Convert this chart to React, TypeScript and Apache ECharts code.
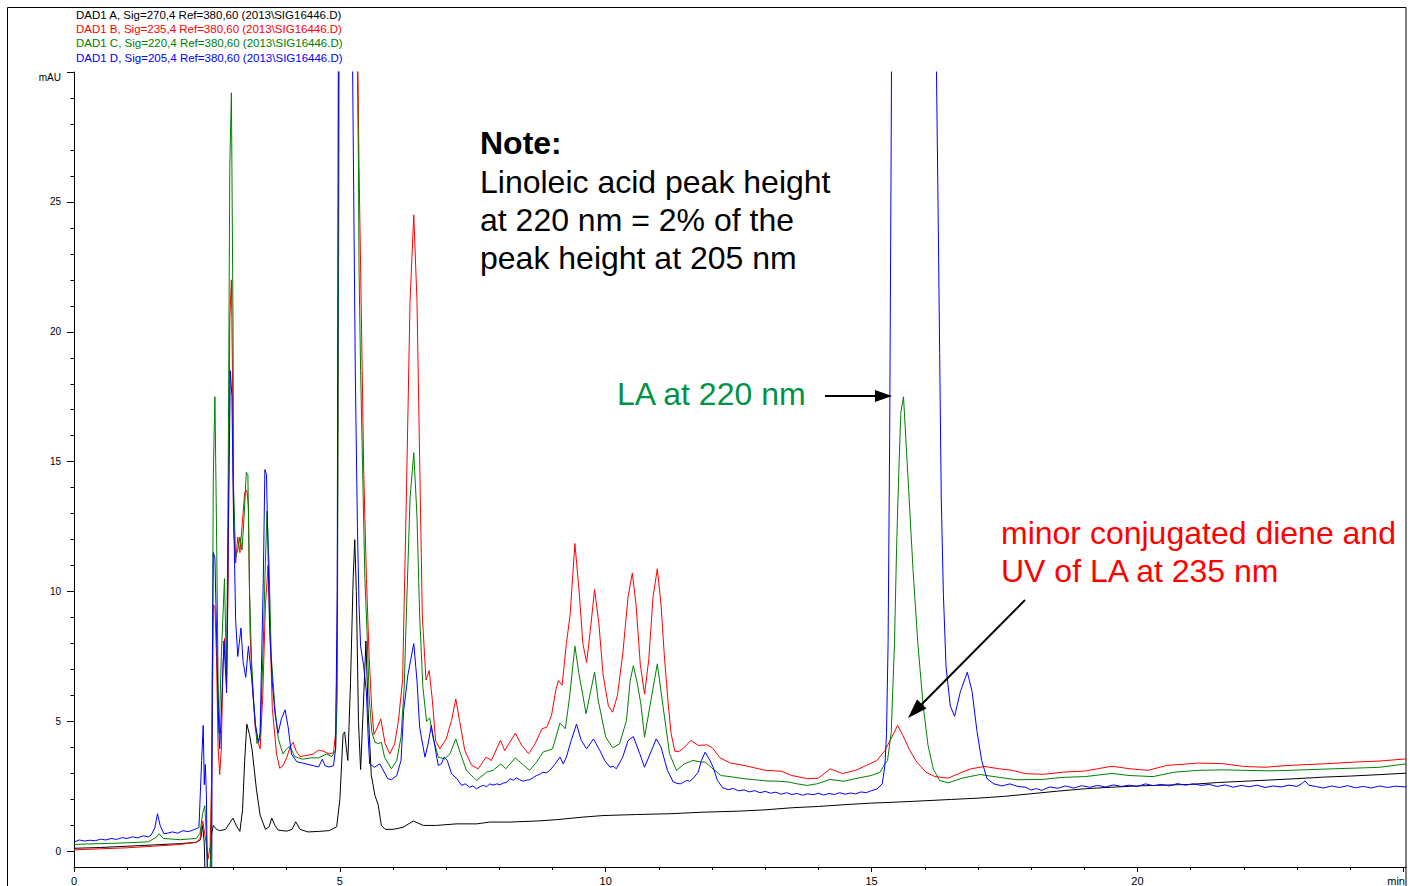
import React, { useEffect, useRef } from "react";
import * as echarts from "echarts";

// ---------- data (time in min, absorbance in mAU) ----------
const sig270: [number, number][] = [
  [0, 0.12], [0.5, 0.15], [1.0, 0.2], [1.5, 0.25], [2.0, 0.3], [2.3, 0.35], [2.38, 0.45], [2.42, 1.0], [2.45, 0.3],
  [2.47, -1.5], [2.55, -1.5], [2.58, 0.6], [2.62, 1.0], [2.68, 0.85], [2.74, 0.8], [2.85, 0.85], [2.93, 1.1],
  [2.99, 1.28], [3.05, 1.0], [3.12, 0.77], [3.17, 1.6], [3.21, 3.5], [3.25, 4.9], [3.3, 4.5], [3.35, 3.9],
  [3.43, 2.4], [3.5, 1.4], [3.6, 0.85], [3.67, 0.95], [3.72, 1.28], [3.78, 1.0], [3.84, 0.82], [4.0, 0.78],
  [4.1, 0.85], [4.17, 1.14], [4.25, 0.85], [4.4, 0.75], [4.6, 0.77], [4.8, 0.8], [4.94, 0.95], [5.0, 2.0],
  [5.06, 4.5], [5.09, 4.6], [5.12, 4.0], [5.15, 3.5], [5.2, 6.5], [5.25, 10.5], [5.28, 12.0], [5.31, 10.0],
  [5.35, 5.0], [5.39, 3.15], [5.44, 5.5], [5.49, 8.1], [5.53, 5.5], [5.59, 2.95], [5.66, 2.15], [5.72, 1.8],
  [5.78, 1.0], [5.85, 0.85], [6.0, 0.85], [6.19, 0.93], [6.38, 1.17], [6.57, 1.0], [6.82, 1.0], [7.19, 1.06],
  [7.57, 1.06], [7.82, 1.13], [8.2, 1.13], [8.7, 1.17], [9.07, 1.22], [9.57, 1.32], [9.95, 1.38], [10.58, 1.42],
  [11.2, 1.45], [11.83, 1.51], [12.5, 1.55], [13.0, 1.6], [13.5, 1.68], [14.0, 1.73], [14.5, 1.8], [15.0, 1.86],
  [15.5, 1.9], [16.0, 1.95], [16.5, 2.0], [17.0, 2.05], [17.5, 2.12], [18.0, 2.22], [18.5, 2.32], [19.0, 2.41],
  [19.5, 2.47], [20.0, 2.52], [20.5, 2.55], [21.0, 2.58], [21.5, 2.65], [22.0, 2.7], [22.5, 2.75], [23.0, 2.8],
  [23.5, 2.86], [24.0, 2.9], [24.5, 2.95], [25.05, 3.01],
];

const sig235: [number, number][] = [
  [0, 0.06], [0.5, 0.1], [1.0, 0.14], [1.5, 0.2], [2.0, 0.27], [2.3, 0.35], [2.37, 0.5], [2.42, 1.17], [2.45, 0.8],
  [2.48, 0.4], [2.52, -0.3], [2.56, 0.2], [2.59, 3.0], [2.6, 4.55], [2.62, 9.5], [2.65, 9.4], [2.68, 7.5],
  [2.71, 4.0], [2.74, 2.96], [2.77, 3.9], [2.8, 7.0], [2.83, 8.2], [2.87, 6.5], [2.9, 10.5], [2.93, 20.5],
  [2.96, 22.0], [2.98, 18.5], [3.0, 12.5], [3.04, 11.1], [3.08, 12.1], [3.12, 11.5], [3.16, 12.5], [3.21, 13.8],
  [3.25, 13.9], [3.28, 13.3], [3.31, 8.5], [3.35, 6.5], [3.41, 4.75], [3.47, 4.15], [3.5, 3.95], [3.55, 6.0],
  [3.6, 9.5], [3.65, 11.0], [3.68, 8.9], [3.73, 5.5], [3.81, 3.75], [3.87, 3.2], [3.93, 3.3], [4.0, 3.6],
  [4.06, 4.0], [4.12, 4.2], [4.18, 3.85], [4.25, 3.65], [4.4, 3.7], [4.5, 3.75], [4.6, 3.9], [4.7, 3.85],
  [4.8, 3.75], [4.88, 3.8], [4.92, 4.55], [4.95, 8], [4.98, 30], [5.0, 60], [5.1, 100], [5.3, 60], [5.34, 30],
  [5.36, 26.4], [5.39, 22.5], [5.42, 18.5], [5.45, 14.5], [5.5, 10.5], [5.55, 7.5], [5.6, 5.5], [5.64, 4.5],
  [5.7, 4.75], [5.77, 5.1], [5.85, 4.15], [5.94, 3.76], [6.03, 4.14], [6.1, 5.0], [6.18, 6.6], [6.25, 13.6],
  [6.32, 21.2], [6.39, 24.5], [6.45, 21.2], [6.5, 15.2], [6.55, 9.1], [6.62, 6.6], [6.68, 6.96], [6.74, 5.81],
  [6.8, 4.27], [6.88, 3.95], [7.0, 4.33], [7.1, 5.04], [7.18, 5.87], [7.25, 5.04], [7.35, 3.88], [7.48, 3.31],
  [7.6, 3.18], [7.75, 3.63], [7.85, 3.5], [8.02, 4.27], [8.1, 3.88], [8.3, 4.55], [8.42, 4.08], [8.55, 3.76],
  [8.67, 4.14], [8.8, 4.72], [8.89, 4.78], [8.98, 5.23], [9.06, 6.2], [9.11, 6.58], [9.18, 6.4], [9.26, 8.0],
  [9.33, 9.1], [9.42, 11.85], [9.5, 10.0], [9.57, 8.0], [9.64, 7.27], [9.71, 8.5], [9.79, 10.08], [9.87, 8.8],
  [9.95, 6.8], [10.05, 5.6], [10.13, 5.36], [10.22, 6.0], [10.32, 7.6], [10.42, 9.8], [10.5, 10.71], [10.57, 9.5],
  [10.65, 7.2], [10.73, 6.05], [10.81, 7.4], [10.89, 9.8], [10.97, 10.88], [11.04, 9.5], [11.1, 7.6], [11.17, 5.8],
  [11.23, 4.53], [11.3, 3.85], [11.38, 3.85], [11.45, 3.95], [11.6, 4.27], [11.74, 4.08], [11.9, 4.1], [12.0, 4.0],
  [12.15, 3.6], [12.35, 3.4], [12.6, 3.31], [13.0, 3.12], [13.3, 3.09], [13.5, 2.92], [13.8, 2.8], [14.0, 2.82],
  [14.22, 3.18], [14.45, 3.0], [14.7, 3.12], [14.9, 3.31], [15.1, 3.5], [15.25, 3.88], [15.38, 4.4], [15.49, 4.85],
  [15.59, 4.46], [15.72, 3.88], [15.85, 3.44], [16.02, 3.05], [16.19, 2.88], [16.44, 2.82], [16.7, 3.05],
  [16.87, 3.18], [17.13, 3.27], [17.4, 3.18], [17.65, 3.12], [17.9, 2.99], [18.25, 2.97], [18.6, 3.05],
  [19.0, 3.09], [19.25, 3.18], [19.52, 3.28], [19.86, 3.18], [20.2, 3.12], [20.55, 3.31], [21.15, 3.4],
  [21.6, 3.38], [22.0, 3.27], [22.4, 3.24], [22.85, 3.31], [23.5, 3.37], [24.1, 3.44], [24.56, 3.48], [25.05, 3.56],
];

const sig220: [number, number][] = [
  [0, 0.27], [0.5, 0.3], [1.0, 0.33], [1.4, 0.37], [1.55, 0.55], [1.6, 0.68], [1.68, 0.5], [2.0, 0.45], [2.3, 0.5],
  [2.37, 0.7], [2.42, 1.47], [2.46, 1.76], [2.49, 0.6], [2.52, -1.2], [2.56, -1.2], [2.58, 0.5], [2.6, 6.5],
  [2.62, 14.5], [2.65, 17.5], [2.68, 12.5], [2.71, 6.5], [2.73, 4.55], [2.77, 7.5], [2.83, 10.5], [2.87, 6.74],
  [2.9, 14.5], [2.93, 26.4], [2.96, 29.2], [2.99, 20.5], [3.0, 14.1], [3.04, 11.3], [3.09, 11.7], [3.12, 12.1],
  [3.16, 11.6], [3.2, 12.9], [3.24, 14.6], [3.27, 14.5], [3.3, 10.1], [3.34, 7.3], [3.38, 5.75], [3.44, 4.15],
  [3.5, 4.35], [3.56, 8.0], [3.59, 10.5], [3.63, 13.1], [3.67, 10.9], [3.71, 7.5], [3.78, 5.5], [3.84, 4.35],
  [3.93, 3.75], [4.0, 3.95], [4.06, 4.05], [4.15, 3.65], [4.3, 3.55], [4.45, 3.6], [4.6, 3.6], [4.75, 3.75],
  [4.85, 3.65], [4.92, 3.9], [4.95, 6], [4.98, 25], [5.0, 60], [5.1, 100], [5.3, 60], [5.33, 30], [5.35, 26.4],
  [5.36, 22.5], [5.39, 18.5], [5.43, 14.5], [5.47, 10.5], [5.51, 8.5], [5.55, 6.0], [5.6, 4.6], [5.66, 4.2],
  [5.72, 4.15], [5.78, 4.2], [5.84, 3.63], [5.97, 3.18], [6.07, 3.5], [6.15, 4.4], [6.21, 6.32], [6.25, 9.1],
  [6.32, 13.6], [6.39, 15.35], [6.45, 12.9], [6.5, 9.1], [6.56, 6.35], [6.63, 5.0], [6.69, 5.14], [6.75, 4.4],
  [6.85, 3.63], [6.97, 3.56], [7.07, 3.76], [7.18, 4.33], [7.26, 3.82], [7.38, 3.12], [7.57, 2.73], [7.76, 3.05],
  [7.88, 3.12], [8.03, 3.37], [8.12, 3.18], [8.3, 3.6], [8.46, 3.31], [8.57, 3.12], [8.7, 3.44], [8.82, 3.82],
  [9.0, 3.95], [9.14, 4.94], [9.24, 4.72], [9.32, 5.94], [9.42, 7.9], [9.5, 6.8], [9.63, 5.3], [9.72, 6.2],
  [9.79, 6.9], [9.86, 5.8], [10.0, 4.4], [10.13, 3.99], [10.26, 4.14], [10.39, 5.04], [10.46, 6.58], [10.52, 7.15],
  [10.6, 6.4], [10.66, 5.68], [10.73, 4.4], [10.85, 5.81], [10.97, 7.22], [11.08, 5.55], [11.2, 3.76], [11.33, 3.12],
  [11.48, 3.37], [11.64, 3.5], [11.8, 3.44], [11.87, 3.44], [11.98, 3.24], [12.17, 2.92], [12.4, 2.86], [12.6, 2.8],
  [12.8, 2.76], [13.03, 2.71], [13.25, 2.7], [13.45, 2.67], [13.6, 2.6], [13.79, 2.54], [13.97, 2.6], [14.22, 2.77],
  [14.48, 2.7], [14.69, 2.8], [14.99, 2.92], [15.16, 3.05],
  [15.25, 3.37], [15.3, 3.5], [15.37, 4.6], [15.43, 8.0], [15.47, 11.7], [15.51, 14.55], [15.55, 16.9], [15.6, 17.5],
  [15.68, 14.55], [15.78, 10.8], [15.87, 8.0], [15.97, 5.6], [16.06, 4.1], [16.16, 3.17], [16.28, 2.73],
  [16.44, 2.64], [16.7, 2.82], [17.04, 2.96], [17.4, 2.85], [17.73, 2.76], [18.2, 2.77], [18.6, 2.85], [19.01, 2.88],
  [19.52, 3.0], [19.86, 2.92], [20.29, 2.88], [20.7, 3.05], [21.15, 3.12], [21.6, 3.14], [22.0, 3.12], [22.5, 3.1],
  [22.85, 3.12], [23.7, 3.18], [24.3, 3.22], [24.56, 3.24], [25.05, 3.37],
];

const sig205: [number, number][] = [
  [0, 0.36], [0.1, 0.44], [0.2, 0.4], [0.3, 0.43], [0.4, 0.41], [0.5, 0.47], [0.6, 0.44], [0.7, 0.5], [0.8, 0.46],
  [0.9, 0.53], [1.0, 0.5], [1.1, 0.56], [1.2, 0.52], [1.3, 0.6], [1.4, 0.56], [1.45, 0.63], [1.52, 0.9],
  [1.57, 1.45], [1.62, 1.0], [1.69, 0.68], [1.75, 0.7], [1.85, 0.75], [1.95, 0.7], [2.05, 0.8], [2.15, 0.76],
  [2.25, 0.83], [2.35, 0.92], [2.4, 3.5], [2.43, 4.85], [2.45, 2.57], [2.47, 3.35], [2.49, 2.2], [2.51, -1.5],
  [2.59, -1.5], [2.6, 6.5], [2.62, 11.5], [2.65, 11.3], [2.68, 8.5], [2.71, 5.5], [2.74, 3.95], [2.77, 5.3],
  [2.82, 8.1], [2.87, 6.1], [2.9, 12.0], [2.94, 18.5], [2.97, 17.5], [2.99, 14.3], [3.04, 8.9], [3.08, 7.5],
  [3.14, 8.6], [3.18, 7.3], [3.23, 6.7], [3.28, 7.9], [3.35, 6.5], [3.41, 4.9], [3.47, 4.2], [3.5, 4.55],
  [3.56, 10.5], [3.59, 14.7], [3.62, 14.5], [3.65, 11.5], [3.68, 8.5], [3.73, 6.5], [3.78, 5.3], [3.84, 4.55],
  [3.9, 5.1], [3.97, 5.45], [4.03, 4.75], [4.09, 3.75], [4.19, 3.45], [4.3, 3.4], [4.4, 3.35], [4.5, 3.3],
  [4.6, 3.25], [4.67, 3.55], [4.72, 3.3], [4.8, 3.25], [4.88, 3.3], [4.92, 3.95], [4.95, 10], [4.97, 30], [5.0, 70],
  [5.1, 100], [5.22, 40], [5.24, 30], [5.26, 25.4], [5.29, 18.5], [5.33, 12.5], [5.36, 9.5], [5.39, 7.9],
  [5.45, 7.1], [5.5, 6.1], [5.53, 4.5], [5.56, 3.37], [5.65, 3.24], [5.75, 3.37], [5.8, 3.18], [5.9, 2.8],
  [5.97, 2.76], [6.07, 2.92], [6.15, 3.5], [6.2, 5.42], [6.28, 6.8], [6.39, 8.0], [6.45, 6.58], [6.5, 4.78],
  [6.6, 3.63], [6.66, 4.14], [6.72, 4.85], [6.79, 4.0], [6.85, 3.31], [6.91, 3.37], [6.96, 3.63], [7.02, 3.5],
  [7.1, 2.99], [7.2, 2.8], [7.29, 2.54], [7.36, 2.6], [7.44, 2.47], [7.5, 2.52], [7.57, 2.41], [7.64, 2.5],
  [7.7, 2.54], [7.76, 2.49], [7.82, 2.6], [7.88, 2.55], [7.95, 2.6], [8.01, 2.56], [8.07, 2.63], [8.14, 2.66],
  [8.2, 2.8], [8.26, 2.74], [8.32, 2.83], [8.38, 2.76], [8.45, 2.7], [8.51, 2.74], [8.57, 2.76], [8.64, 2.85],
  [8.7, 2.92], [8.76, 2.97], [8.82, 3.05], [8.88, 3.02], [8.95, 3.12], [9.05, 3.37], [9.14, 3.63], [9.2, 3.37],
  [9.26, 3.63], [9.35, 4.27], [9.45, 4.9], [9.54, 4.27], [9.64, 3.95], [9.77, 4.33], [9.89, 3.88], [9.98, 3.5],
  [10.08, 3.24], [10.14, 3.28], [10.2, 3.18], [10.32, 3.63], [10.42, 4.27], [10.52, 4.42], [10.64, 3.76],
  [10.73, 3.24], [10.86, 3.88], [10.95, 4.33], [11.04, 4.01], [11.16, 3.12], [11.27, 2.67], [11.34, 2.62],
  [11.4, 2.6], [11.46, 2.66], [11.52, 2.73], [11.58, 2.7], [11.64, 2.8], [11.74, 3.05], [11.8, 3.5], [11.87, 3.82],
  [11.96, 3.5], [12.02, 3.24], [12.1, 2.73], [12.2, 2.45], [12.3, 2.38], [12.4, 2.42], [12.5, 2.33], [12.6, 2.37],
  [12.7, 2.29], [12.8, 2.34], [12.9, 2.26], [13.0, 2.31], [13.1, 2.24], [13.2, 2.28], [13.3, 2.2], [13.4, 2.26],
  [13.5, 2.19], [13.6, 2.23], [13.7, 2.16], [13.8, 2.22], [13.9, 2.18], [14.0, 2.24], [14.1, 2.17], [14.2, 2.23],
  [14.3, 2.19], [14.4, 2.26], [14.5, 2.2], [14.6, 2.25], [14.7, 2.21], [14.8, 2.29], [14.9, 2.26], [15.0, 2.34],
  [15.1, 2.4], [15.2, 2.6], [15.25, 3.3], [15.28, 4.5], [15.31, 8], [15.34, 16], [15.37, 28], [15.4, 45],
  [15.8, 100], [16.18, 45], [16.22, 30], [16.25, 24.8], [16.28, 19.2], [16.31, 13.6], [16.35, 9.9], [16.4, 7.1],
  [16.48, 5.6], [16.56, 5.2], [16.67, 6.15], [16.8, 6.9], [16.89, 6.15], [16.98, 4.65], [17.07, 3.5], [17.17, 2.8],
  [17.3, 2.6], [17.45, 2.52], [17.6, 2.6], [17.75, 2.5], [17.9, 2.47], [18.0, 2.36], [18.1, 2.42], [18.2, 2.35],
  [18.35, 2.48], [18.5, 2.43], [18.65, 2.52], [18.8, 2.44], [18.95, 2.53], [19.1, 2.47], [19.25, 2.54],
  [19.4, 2.48], [19.55, 2.56], [19.7, 2.5], [19.85, 2.55], [20.0, 2.5], [20.15, 2.6], [20.3, 2.53], [20.45, 2.58],
  [20.6, 2.52], [20.75, 2.61], [20.9, 2.55], [21.05, 2.6], [21.2, 2.54], [21.35, 2.58], [21.5, 2.5], [21.65, 2.56],
  [21.8, 2.47], [21.95, 2.54], [22.1, 2.49], [22.25, 2.55], [22.4, 2.46], [22.55, 2.52], [22.7, 2.48], [22.85, 2.55],
  [23.0, 2.5], [23.1, 2.62], [23.15, 2.72], [23.22, 2.55], [23.35, 2.5], [23.5, 2.44], [23.65, 2.52], [23.8, 2.46],
  [23.95, 2.53], [24.1, 2.45], [24.25, 2.5], [24.4, 2.44], [24.55, 2.52], [24.7, 2.46], [24.85, 2.51], [25.05, 2.48],
];

const signalNames = [
  "DAD1 A, Sig=270,4 Ref=380,60 (2013\\SIG16446.D)",
  "DAD1 B, Sig=235,4 Ref=380,60 (2013\\SIG16446.D)",
  "DAD1 C, Sig=220,4 Ref=380,60 (2013\\SIG16446.D)",
  "DAD1 D, Sig=205,4 Ref=380,60 (2013\\SIG16446.D)",
];
const signalColors = ["#000000", "#ff0000", "#008000", "#0000ff"];

const xLabelValues = [0, 5, 10, 15, 20];
const xMajorTicks = [0, 5, 10, 15, 20, 25];
const xMinorTicks = [1, 2, 3, 4, 6, 7, 8, 9, 11, 12, 13, 14, 16, 17, 18, 19, 21, 22, 23, 24];
const yLabelValues = [0, 5, 10, 15, 20, 25];
const yMajorTicks = [0, 5, 10, 15, 20, 25, 30];
const yMinorTicks = [1, 2, 3, 4, 6, 7, 8, 9, 11, 12, 13, 14, 16, 17, 18, 19, 21, 22, 23, 24, 26, 27, 28, 29];

const noteLines = ["Linoleic acid peak height", "at 220 nm = 2% of the", "peak height at 205 nm"];
const laLabel = "LA at 220 nm";
const dieneLines = ["minor conjugated diene and", "UV of LA at 235 nm"];

const FONT = "'Liberation Sans', Arial, Helvetica, sans-serif";

function txt(x: number, y: number, text: string, size: number, fill: string, weight = "normal", align = "left") {
  return {
    type: "text",
    x,
    y,
    silent: true,
    z: 10,
    style: { text, fill, fontSize: size, fontFamily: FONT, fontWeight: weight, align, verticalAlign: "middle" },
  };
}

export default function App() {
  const ref = useRef<HTMLDivElement>(null);

  useEffect(() => {
    if (!ref.current) return;
    const chart = echarts.init(ref.current, undefined, { renderer: "svg" });
    const X_MAX = 25.05;
    const Y_MIN = -0.6;
    const Y_MAX = 30;

    const graphics: any[] = [
      {
        type: "rect",
        silent: true,
        shape: { x: 7.5, y: 7.5, width: 1398.5, height: 900 },
        style: { fill: "none", stroke: "#000", lineWidth: 1 },
      },
    ];
    signalNames.forEach((s, i) => graphics.push(txt(76, 15 + i * 14.2, s, 11.5, signalColors[i])));
    graphics.push(txt(61, 77, "mAU", 10, "#000", "normal", "right"));
    graphics.push(txt(1405, 881, "min", 11, "#000", "normal", "right"));
    graphics.push(txt(480, 143, "Note:", 32, "#000", "bold"));
    noteLines.forEach((s, i) => graphics.push(txt(480, 182 + i * 38, s, 32, "#000")));
    graphics.push(txt(617, 394, laLabel, 32, "#009245"));
    dieneLines.forEach((s, i) => graphics.push(txt(1001, 533 + i * 38, s, 32, "#ff0000")));
    // arrow 1
    graphics.push({
      type: "line",
      silent: true,
      z: 10,
      shape: { x1: 825, y1: 396, x2: 878, y2: 396 },
      style: { stroke: "#000", lineWidth: 2 },
    });
    graphics.push({
      type: "polygon",
      silent: true,
      z: 10,
      shape: { points: [[892, 396], [875, 390], [875, 402]] },
      style: { fill: "#000" },
    });
    // arrow 2
    graphics.push({
      type: "line",
      silent: true,
      z: 10,
      shape: { x1: 1025, y1: 600, x2: 921, y2: 705 },
      style: { stroke: "#000", lineWidth: 2 },
    });
    graphics.push({
      type: "polygon",
      silent: true,
      z: 10,
      shape: { points: [[908, 718], [926.5, 708.5], [917, 699.5]] },
      style: { fill: "#000" },
    });

    const axisLineStyle = { color: "#000", width: 1 };

    chart.setOption({
      animation: false,
      backgroundColor: "#fff",
      textStyle: { fontFamily: FONT },
      grid: { left: 74, right: 10, top: 72, bottom: 19, containLabel: false },
      xAxis: [
        {
          type: "value",
          min: 0,
          max: X_MAX,
          position: "bottom",
          axisLine: { show: true, onZero: false, lineStyle: axisLineStyle },
          axisTick: { show: true, customValues: xMajorTicks, length: 5, lineStyle: axisLineStyle },
          axisLabel: { show: true, customValues: xLabelValues, margin: 8, fontSize: 11, color: "#000", fontFamily: FONT },
          splitLine: { show: false },
        },
        {
          type: "value",
          min: 0,
          max: X_MAX,
          position: "bottom",
          axisLine: { show: false, onZero: false },
          axisTick: { show: true, customValues: xMinorTicks, length: 3, lineStyle: axisLineStyle },
          axisLabel: { show: false },
          splitLine: { show: false },
        },
      ],
      yAxis: [
        {
          type: "value",
          min: Y_MIN,
          max: Y_MAX,
          position: "left",
          axisLine: { show: true, onZero: false, lineStyle: axisLineStyle },
          axisTick: { show: true, customValues: yMajorTicks, length: 7, lineStyle: axisLineStyle },
          axisLabel: { show: true, customValues: yLabelValues, margin: 13, fontSize: 10, color: "#000", fontFamily: FONT },
          splitLine: { show: false },
        },
        {
          type: "value",
          min: Y_MIN,
          max: Y_MAX,
          position: "left",
          axisLine: { show: false, onZero: false },
          axisTick: { show: true, customValues: yMinorTicks, length: 3.5, lineStyle: axisLineStyle },
          axisLabel: { show: false },
          splitLine: { show: false },
        },
      ],
      series: [sig270, sig235, sig220, sig205].map((d, i) => ({
        type: "line",
        name: signalNames[i],
        data: d,
        xAxisIndex: 0,
        yAxisIndex: 0,
        showSymbol: false,
        symbol: "none",
        smooth: false,
        clip: true,
        silent: true,
        lineStyle: { color: signalColors[i], width: 1 },
        itemStyle: { color: signalColors[i] },
        z: 2 + i,
      })),
      graphic: graphics,
    });

    return () => chart.dispose();
  }, []);

  return <div ref={ref} style={{ position: "fixed", left: 0, top: 0, width: 1416, height: 886, background: "#fff" }} />;
}
